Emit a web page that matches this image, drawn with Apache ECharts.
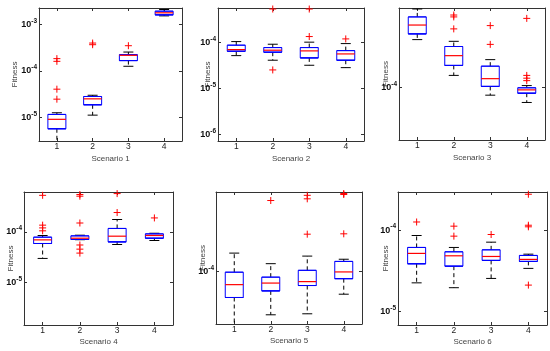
<!DOCTYPE html>
<html>
<head>
<meta charset="utf-8">
<script src="https://cdn.jsdelivr.net/npm/echarts@6/dist/echarts.min.js"></script>
<style>
html,body{margin:0;padding:0;background:#fff;}
#chart{width:550px;height:351px;}
</style>
</head>
<body>
<div id="chart"></div>
<script>
// ---- data (log-scale fitness) ----
const categories = ['1', '2', '3', '4'];
const scenarioNames = ['Scenario 1', 'Scenario 2', 'Scenario 3', 'Scenario 4', 'Scenario 5', 'Scenario 6'];
const yAxisName = 'Fitness';

// each box: [lowerWhisker, q1, median, q3, upperWhisker]
const s1Boxes = [
  [3.0e-6, 5.7e-6, 9.1e-6, 1.16e-5, 1.26e-5],
  [1.12e-5, 1.87e-5, 2.51e-5, 2.82e-5, 3.0e-5],
  [1.26e-4, 1.67e-4, 2.17e-4, 2.24e-4, 2.55e-4],
  [1.53e-3, 1.61e-3, 1.78e-3, 1.93e-3, 2.1e-3]
];
const s1Outliers = [[0, 1.84e-4], [0, 1.61e-4], [0, 4.05e-5], [0, 2.47e-5], [1, 3.98e-4], [1, 3.67e-4], [2, 3.49e-4]];
const s1Range = [3.11e-6, 2.26e-3];

const s2Boxes = [
  [5.2e-5, 6.48e-5, 7.03e-5, 8.77e-5, 1.05e-4],
  [4.13e-5, 6.17e-5, 6.82e-5, 7.78e-5, 9.2e-5],
  [3.21e-5, 4.64e-5, 6.59e-5, 7.78e-5, 1.02e-4],
  [2.85e-5, 4.13e-5, 5.66e-5, 6.68e-5, 9.5e-5]
];
const s2Outliers = [[1, 5.36e-4], [1, 2.54e-5], [2, 5.36e-4], [2, 1.35e-4], [3, 1.2e-4]];
const s2Range = [7.24e-7, 5.64e-4];

const s3Boxes = [
  [2.34e-4, 2.59e-4, 3.03e-4, 3.50e-4, 4.03e-4],
  [1.24e-4, 1.48e-4, 1.76e-4, 2.07e-4, 2.27e-4],
  [8.73e-5, 1.02e-4, 1.17e-4, 1.46e-4, 1.64e-4],
  [7.67e-5, 9.04e-5, 9.59e-5, 9.95e-5, 1.035e-4]
];
const s3Outliers = [[1, 3.62e-4], [1, 3.50e-4], [1, 2.83e-4], [2, 3.0e-4], [2, 2.15e-4], [3, 3.41e-4], [3, 1.24e-4], [3, 1.18e-4], [3, 1.13e-4]];
const s3Range = [3.94e-5, 4.10e-4];

const s4Boxes = [
  [2.98e-5, 5.89e-5, 6.95e-5, 7.86e-5, 8.48e-5],
  [7.0e-5, 7.08e-5, 7.5e-5, 8.34e-5, 8.6e-5],
  [5.63e-5, 6.34e-5, 8.22e-5, 1.17e-4, 1.76e-4],
  [6.76e-5, 7.5e-5, 8.48e-5, 9.13e-5, 9.4e-5]
];
const s4Outliers = [[0, 5.3e-4], [0, 1.36e-4], [0, 1.2e-4], [0, 1.05e-4], [1, 5.5e-4], [1, 5.1e-4], [1, 1.5e-4], [1, 5.5e-5], [1, 4.55e-5], [1, 3.8e-5], [2, 5.74e-4], [2, 2.42e-4], [3, 1.89e-4]];
const s4Range = [1.43e-6, 6.17e-4];

const s5Boxes = [
  [4.37e-5, 6.71e-5, 8.18e-5, 9.91e-5, 1.33e-4],
  [5.14e-5, 7.43e-5, 8.38e-5, 9.18e-5, 1.13e-4],
  [5.22e-5, 8.07e-5, 8.57e-5, 1.02e-4, 1.27e-4],
  [7.06e-5, 8.97e-5, 9.95e-5, 1.17e-4, 1.21e-4]
];
const s5Outliers = [[1, 2.99e-4], [2, 3.24e-4], [2, 3.07e-4], [2, 1.78e-4], [3, 3.33e-4], [3, 3.28e-4], [3, 1.79e-4]];
const s5Range = [4.46e-5, 3.41e-4];

const s6Boxes = [
  [2.26e-5, 3.87e-5, 5.19e-5, 6.14e-5, 8.61e-5],
  [1.97e-5, 3.62e-5, 4.85e-5, 5.43e-5, 6.14e-5],
  [2.56e-5, 4.26e-5, 4.76e-5, 5.74e-5, 7.13e-5],
  [3.40e-5, 4.14e-5, 4.38e-5, 4.90e-5, 5.08e-5]
];
const s6Outliers = [[0, 1.26e-4], [1, 1.12e-4], [1, 8.45e-5], [2, 8.85e-5], [3, 2.76e-4], [3, 1.15e-4], [3, 1.10e-4], [3, 2.12e-5]];
const s6Range = [6.87e-6, 2.94e-4];

const allBoxes = [s1Boxes, s2Boxes, s3Boxes, s4Boxes, s5Boxes, s6Boxes];
const allOutliers = [s1Outliers, s2Outliers, s3Outliers, s4Outliers, s5Outliers, s6Outliers];
const allRanges = [s1Range, s2Range, s3Range, s4Range, s5Range, s6Range];

// ---- layout / style ----
const grids = [
  {left: 39, top: 8, width: 143, height: 133},
  {left: 218, top: 8, width: 146, height: 133},
  {left: 399, top: 8, width: 146, height: 132},
  {left: 24, top: 192, width: 149, height: 133},
  {left: 216, top: 192, width: 146, height: 132},
  {left: 398, top: 192, width: 149, height: 133}
];
const yNameGaps = [20, 6, 9, 9, 9, 8];
const xNameGaps = [14, 14, 14, 12.5, 12.5, 12.5];
const FONT = 'Liberation Sans, Arial, Helvetica, sans-serif';
const AXIS_COLOR = '#333';
const BOX_COLOR = '#0000ff';
const MEDIAN_COLOR = '#ff0000';
const WHISKER_COLOR = '#000000';
const OUTLIER_COLOR = '#ff0000';
const BOX_PX = 18;
const CAP_PX = 10;
const PLUS_PATH = 'path://M0,5L10,5M5,0L5,10';

function logLabel(v) {
  const e = Math.log10(v);
  const r = Math.round(e);
  if (Math.abs(e - r) < 1e-6) return '{b|10}{s|' + r + '}';
  return '';
}

const option = {
  animation: false,
  backgroundColor: '#fff',
  textStyle: {fontFamily: FONT},
  grid: grids.map(g => Object.assign({containLabel: false}, g)),
  xAxis: [],
  yAxis: [],
  series: []
};

for (let i = 0; i < 6; i++) {
  const lineStyle = {color: AXIS_COLOR, width: 1};
  option.xAxis.push({
    type: 'category', gridIndex: i, data: categories, boundaryGap: true,
    axisLine: {show: true, lineStyle},
    axisTick: {show: true, inside: true, alignWithLabel: true, length: 3, lineStyle},
    axisLabel: {show: true, fontSize: 8.5, color: '#222', margin: 1, fontFamily: FONT},
    splitLine: {show: false},
    name: scenarioNames[i], nameLocation: 'middle', nameGap: xNameGaps[i], nameMoveOverlap: false,
    nameTextStyle: {fontSize: 8, color: '#444', fontFamily: FONT}
  });
  option.xAxis.push({
    type: 'category', gridIndex: i, data: categories, boundaryGap: true, position: 'top',
    axisLine: {show: true, lineStyle},
    axisTick: {show: true, inside: true, alignWithLabel: true, length: 3, lineStyle},
    axisLabel: {show: false}, splitLine: {show: false}
  });
  const r = allRanges[i];
  option.yAxis.push({
    type: 'log', logBase: 10, gridIndex: i, min: r[0], max: r[1],
    axisLine: {show: true, lineStyle},
    axisTick: {show: true, inside: true, length: 3, lineStyle},
    splitLine: {show: false},
    axisLabel: {
      show: true, margin: 2, showMinLabel: false, showMaxLabel: false,
      formatter: logLabel,
      rich: {
        b: {fontSize: 9, fontWeight: 'bold', color: '#111', fontFamily: FONT},
        s: {fontSize: 6.5, fontWeight: 'bold', color: '#111', fontFamily: FONT, padding: [0, 0, 7, 0]}
      }
    },
    name: yAxisName, nameLocation: 'middle', nameGap: yNameGaps[i], nameRotate: 90, nameMoveOverlap: false,
    nameTextStyle: {fontSize: 8, color: '#444', fontFamily: FONT}
  });
  option.yAxis.push({
    type: 'log', logBase: 10, gridIndex: i, min: r[0], max: r[1], position: 'right',
    axisLine: {show: true, lineStyle},
    axisTick: {show: true, inside: true, length: 3, lineStyle},
    splitLine: {show: false}, axisLabel: {show: false}
  });

  const boxes = allBoxes[i];
  const ax = {xAxisIndex: 2 * i, yAxisIndex: 2 * i};

  // dashed whiskers (q3 -> upper, q1 -> lower), broken between boxes
  const whiskerData = [];
  boxes.forEach((b, k) => {
    whiskerData.push([k, b[3]], [k, b[4]], [k, '-'], [k, b[1]], [k, b[0]], [k, '-']);
  });
  option.series.push(Object.assign({
    type: 'line', data: whiskerData, symbol: 'none', connectNulls: false, silent: true,
    lineStyle: {color: WHISKER_COLOR, width: 1, type: [4, 3]}, z: 2
  }, ax));

  // whisker caps
  const capData = [];
  boxes.forEach((b, k) => { capData.push([k, b[0]], [k, b[4]]); });
  option.series.push(Object.assign({
    type: 'scatter', data: capData, symbol: 'rect', symbolSize: [CAP_PX, 1], silent: true,
    itemStyle: {color: WHISKER_COLOR, opacity: 1}, z: 3
  }, ax));

  // boxes (q1..q3); the box's own median line sits on q1 so only the red median shows
  option.series.push(Object.assign({
    type: 'boxplot', silent: true, boxWidth: [BOX_PX, BOX_PX],
    data: boxes.map(b => [b[1], b[1], b[1], b[3], b[3]]),
    itemStyle: {color: 'rgba(0,0,0,0)', borderColor: BOX_COLOR, borderWidth: 1},
    z: 4
  }, ax));

  // medians
  option.series.push(Object.assign({
    type: 'scatter', data: boxes.map((b, k) => [k, b[2]]), symbol: 'rect', symbolSize: [BOX_PX, 1.2], silent: true,
    itemStyle: {color: MEDIAN_COLOR, opacity: 1}, z: 5
  }, ax));

  // outliers
  option.series.push(Object.assign({
    type: 'scatter', data: allOutliers[i], symbol: PLUS_PATH, symbolSize: 7, silent: true,
    itemStyle: {color: 'rgba(0,0,0,0)', borderColor: OUTLIER_COLOR, borderWidth: 1, opacity: 1}, z: 6
  }, ax));
}

const chart = echarts.init(document.getElementById('chart'), null, {renderer: 'canvas'});
chart.setOption(option);
</script>
</body>
</html>
